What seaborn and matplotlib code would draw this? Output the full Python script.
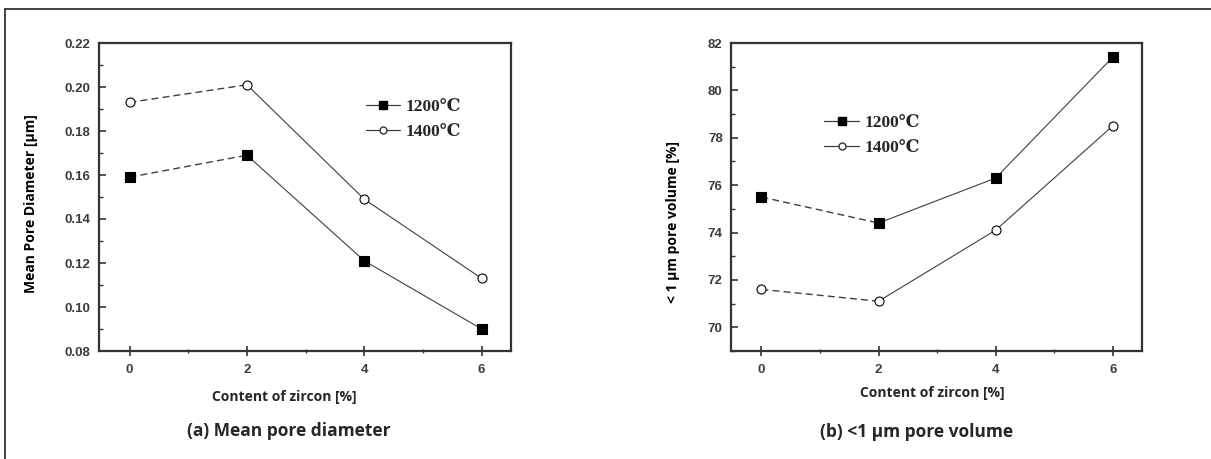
import matplotlib
matplotlib.use("Agg")
import matplotlib.pyplot as plt
from matplotlib.lines import Line2D
from matplotlib.ticker import MultipleLocator, FormatStrFormatter
import seaborn as sns
import pandas as pd

sns.set_theme(style="white")
plt.rcParams['font.family'] = ['Open Sans', 'DejaVu Sans']

zircon = [0, 2, 4, 6]
series = ["1200℃", "1400℃"]
diam_1200 = [0.159, 0.169, 0.121, 0.090]
diam_1400 = [0.193, 0.201, 0.149, 0.113]
vol_1200 = [75.5, 74.4, 76.3, 81.4]
vol_1400 = [71.6, 71.1, 74.1, 78.5]

fig = plt.figure(figsize=(12.11, 4.59), dpi=100)

# outer frame: top and left rules only
fig.add_artist(Line2D([5/1211, 1.0], [1 - 9/459, 1 - 9/459], transform=fig.transFigure,
                      color='#222222', linewidth=1.2))
fig.add_artist(Line2D([5/1211, 5/1211], [0.0, 1 - 9/459], transform=fig.transFigure,
                      color='#222222', linewidth=1.2))

axA = fig.add_axes([99/1211, 1 - 351/459, 412/1211, 308/459])
axB = fig.add_axes([731/1211, 1 - 351/459, 411/1211, 308/459])

line_col = '#3a4048'
serif = ['Liberation Serif', 'DejaVu Serif']
tickfont = ['Liberation Sans', 'DejaVu Sans']

def style_ticklabels(ax):
    for lab in ax.get_xticklabels() + ax.get_yticklabels():
        lab.set_fontweight('bold')
        lab.set_color('#3c3c3c')
        lab.set_family(tickfont)
        lab.set_fontsize(9.5)

def draw(ax, s1, s2):
    for vals, mk, fc in [(s1, 's', 'black'), (s2, 'o', 'white')]:
        d = pd.DataFrame({'x': zircon, 'y': vals})
        sns.lineplot(data=d.iloc[:2], x='x', y='y', ax=ax, color=line_col,
                     linestyle=(0, (5, 3)), linewidth=1.0)
        sns.lineplot(data=d.iloc[1:], x='x', y='y', ax=ax, color=line_col,
                     linewidth=0.8)
        sns.scatterplot(data=d, x='x', y='y', ax=ax, marker=mk, s=42,
                        color=fc, edgecolor='black', linewidth=0.8, zorder=5)
    for sp in ax.spines.values():
        sp.set_color('#333333')
        sp.set_linewidth(1.6)
    ax.set_xticks(zircon)
    ax.xaxis.set_minor_locator(MultipleLocator(1))
    ax.tick_params(axis='x', which='major', direction='inout', length=7, width=1.2,
                   colors='#333333', pad=6, bottom=True)
    ax.tick_params(axis='x', which='minor', direction='inout', length=3, width=1.0,
                   colors='#333333', bottom=True)
    ax.tick_params(axis='y', which='major', direction='in', length=5, width=1.2,
                   colors='#333333', pad=6, left=True)
    ax.tick_params(axis='y', which='minor', direction='in', length=3, width=1.0,
                   colors='#333333', left=True)
    ax.set_xlim(-0.52, 6.5)
    ax.set_xlabel('')
    ax.set_ylabel('')

draw(axA, diam_1200, diam_1400)
axA.set_ylim(0.08, 0.22)
axA.yaxis.set_major_locator(MultipleLocator(0.02))
axA.yaxis.set_minor_locator(MultipleLocator(0.01))
axA.yaxis.set_major_formatter(FormatStrFormatter('%.2f'))
style_ticklabels(axA)

draw(axB, vol_1200, vol_1400)
axB.set_ylim(69, 82)
axB.yaxis.set_major_locator(MultipleLocator(2))
axB.yaxis.set_minor_locator(MultipleLocator(1))
style_ticklabels(axB)

def legend(ax, loc):
    handles = [Line2D([], [], color=line_col, linewidth=0.9, marker='s', markersize=5.5,
                      markerfacecolor='black', markeredgecolor='black'),
               Line2D([], [], color=line_col, linewidth=0.9, marker='o', markersize=5,
                      markerfacecolor='white', markeredgecolor='#333333')]
    ax.legend(handles, series, loc='upper left', bbox_to_anchor=loc, frameon=False,
              prop={'family': serif, 'weight': 'bold', 'size': 12.5},
              handlelength=2.0, handletextpad=0.3, labelspacing=0.5, borderaxespad=0)

legend(axA, (0.63, 0.84))
legend(axB, (0.21, 0.79))

axA.set_ylabel('Mean Pore Diameter [µm]', fontsize=10, fontweight='bold', color='black')
axB.set_ylabel('< 1 µm pore volume [%]', fontsize=10, fontweight='bold', color='black')
axA.yaxis.set_label_coords(-0.148, 0.48)
axB.yaxis.set_label_coords(-0.125, 0.42)

fig.text(284/1211, 1 - 397/459, 'Content of zircon [%]', ha='center', va='center',
         fontsize=10, fontweight='bold')
fig.text(932/1211, 1 - 393/459, 'Content of zircon [%]', ha='center', va='center',
         fontsize=10, fontweight='bold')
fig.text(289/1211, 1 - 431/459, '(a) Mean pore diameter', ha='center', va='center',
         fontsize=12.5, fontweight='bold')
fig.text(917/1211, 1 - 432/459, '(b) <1 µm pore volume', ha='center', va='center',
         fontsize=12.5, fontweight='bold')

fig.savefig('out.png', dpi=100)
